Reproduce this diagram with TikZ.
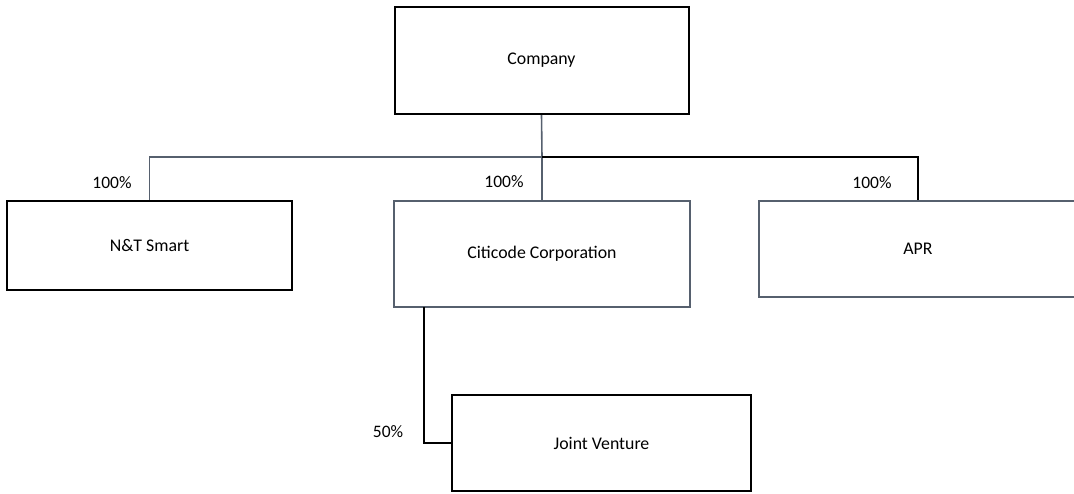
\documentclass[tikz,border=0pt]{standalone}
\usepackage{fontspec}
\setmainfont{Carlito}
\definecolor{slate}{HTML}{56606E}
\begin{document}
\begin{tikzpicture}[x=1pt,y=-1pt,
  box/.style={draw=black,line width=2pt,rectangle,inner sep=0pt,font=\fontsize{17.8}{21}\selectfont},
  sbox/.style={box,draw=slate,line width=1.6pt},
  lbl/.style={font=\fontsize{17.5}{21}\selectfont,inner sep=0pt},
  blk/.style={draw=black,line width=1.8pt},
  sl/.style={draw=slate,line width=1.6pt}]
\clip (0,0) rectangle (1074,493);
\node[box,minimum width=294pt,minimum height=107pt] (company) at (541.5,60.5) {Company};
\node[box,minimum width=285pt,minimum height=89pt] (nt) at (149.5,245.5) {N\&T Smart};
\node[sbox,minimum width=296pt,minimum height=106pt] (citi) at (542,254) {Citicode Corporation};
\node[sbox,minimum width=318pt,minimum height=96pt] (apr) at (918,249) {APR};
\node[box,minimum width=299pt,minimum height=96pt] (jv) at (601.5,443) {Joint Venture};
\coordinate (j) at (542,157);
\coordinate (c1) at (424,307);
\draw[sl] (company.south) -- (j);
\draw[sl] (j) -| (nt.north);
\draw[sl] (j) -- (citi.north);
\draw[blk] (j) -| (apr.north);
\draw[blk] (c1) |- (jv.west);
\node[lbl] (l1) at (112,183) {100\%};
\node[lbl] (l2) at (504,182) {100\%};
\node[lbl] (l3) at (872,183) {100\%};
\node[lbl] (l4) at (388,432) {50\%};
\end{tikzpicture}
\end{document}
